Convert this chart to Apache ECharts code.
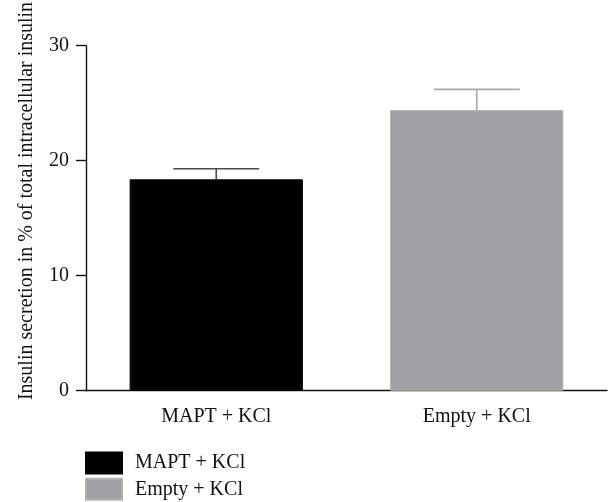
<!DOCTYPE html>
<html>
<head>
<meta charset="utf-8">
<script src="https://cdn.jsdelivr.net/npm/echarts@6/dist/echarts.min.js"></script>
<style>
    html, body { margin: 0; padding: 0; background: #fff; }
    #chart { width: 610px; height: 502px; }
</style>
</head>
<body>
<div id="chart"></div>
<script>
// ============================================
// 数据
// ============================================
const categories = ['MAPT + KCl', 'Empty + KCl'];
const seriesNames = ['MAPT + KCl', 'Empty + KCl'];
const means = [18.38, 24.4];
const errUpper = [19.3, 26.2];
const yTicks = [0, 10, 20, 30];
const yTitle = 'Insulin secretion in % of total intracellular insulin';

const barColors = ['#000000', '#a0a1a4'];
const errColors = ['#4a4a4a', '#a9a9aa'];
const FONT = '"Liberation Serif", "DejaVu Serif", serif';

// ============================================
// 误差线 (只画上半部分)
// ============================================
function renderError(params, api) {
    const idx = api.value(0);
    const top = api.coord([idx, api.value(2)]);
    const base = api.coord([idx, api.value(1)]);
    const half = api.size([1, 0])[0] * 0.165;
    const style = { stroke: errColors[idx], lineWidth: 1.6 };
    return {
        type: 'group',
        children: [
            { type: 'line', shape: { x1: top[0], y1: top[1], x2: base[0], y2: base[1] }, style: style },
            { type: 'line', shape: { x1: top[0] - half, y1: top[1], x2: top[0] + half, y2: top[1] }, style: style }
        ]
    };
}

// ============================================
// 初始化
// ============================================
function init() {
    const chart = echarts.init(document.getElementById('chart'));

    const barSeries = seriesNames.map((name, i) => ({
        name: name,
        type: 'bar',
        stack: 'all',
        barWidth: '66.5%',
        data: categories.map((c, j) => (j === i ? means[j] : '-')),
        itemStyle: {
            color: barColors[i],
            borderColor: i === 1 ? '#b2b2b4' : '#000',
            borderWidth: 1
        },
        silent: true,
        z: 2
    }));

    // 图例: 每项单独放置, 竖排
    const legends = seriesNames.map((name, i) => ({
        left: 80,
        top: 446.5 + i * 26.3,
        itemWidth: 36,
        itemHeight: 21,
        icon: 'rect',
        selectedMode: false,
        data: [name],
        textStyle: { fontFamily: FONT, fontSize: 20, color: '#111', padding: [0, 0, 0, 8] }
    }));

    const option = {
        animation: false,
        textStyle: { fontFamily: FONT },
        grid: { left: 86, right: 3, top: 45.7, bottom: 111.3 },
        legend: legends,
        xAxis: {
            type: 'category',
            data: categories,
            axisLine: { lineStyle: { color: '#111', width: 1.4 } },
            axisTick: { alignWithLabel: true, length: 9, lineStyle: { color: '#111', width: 1.4 } },
            axisLabel: { fontFamily: FONT, fontSize: 20, color: '#111', margin: 16 }
        },
        yAxis: {
            type: 'value',
            min: yTicks[0],
            max: yTicks[yTicks.length - 1],
            interval: 10,
            splitLine: { show: false },
            axisLine: { show: true, lineStyle: { color: '#111', width: 1.4 } },
            axisTick: { show: true, length: 10, lineStyle: { color: '#111', width: 1.4 } },
            axisLabel: { fontFamily: FONT, fontSize: 20, color: '#111', margin: 17 }
        },
        graphic: [{
            type: 'text',
            x: 27,
            y: 201,
            rotation: Math.PI / 2,
            style: {
                text: yTitle,
                font: '20px ' + FONT,
                fill: '#111',
                align: 'center',
                verticalAlign: 'middle'
            }
        }],
        series: barSeries.concat([{
            type: 'custom',
            renderItem: renderError,
            data: categories.map((c, j) => [j, means[j], errUpper[j]]),
            silent: true,
            z: 3
        }])
    };
    chart.setOption(option);
}

document.addEventListener('DOMContentLoaded', init);
</script>
</body>
</html>
